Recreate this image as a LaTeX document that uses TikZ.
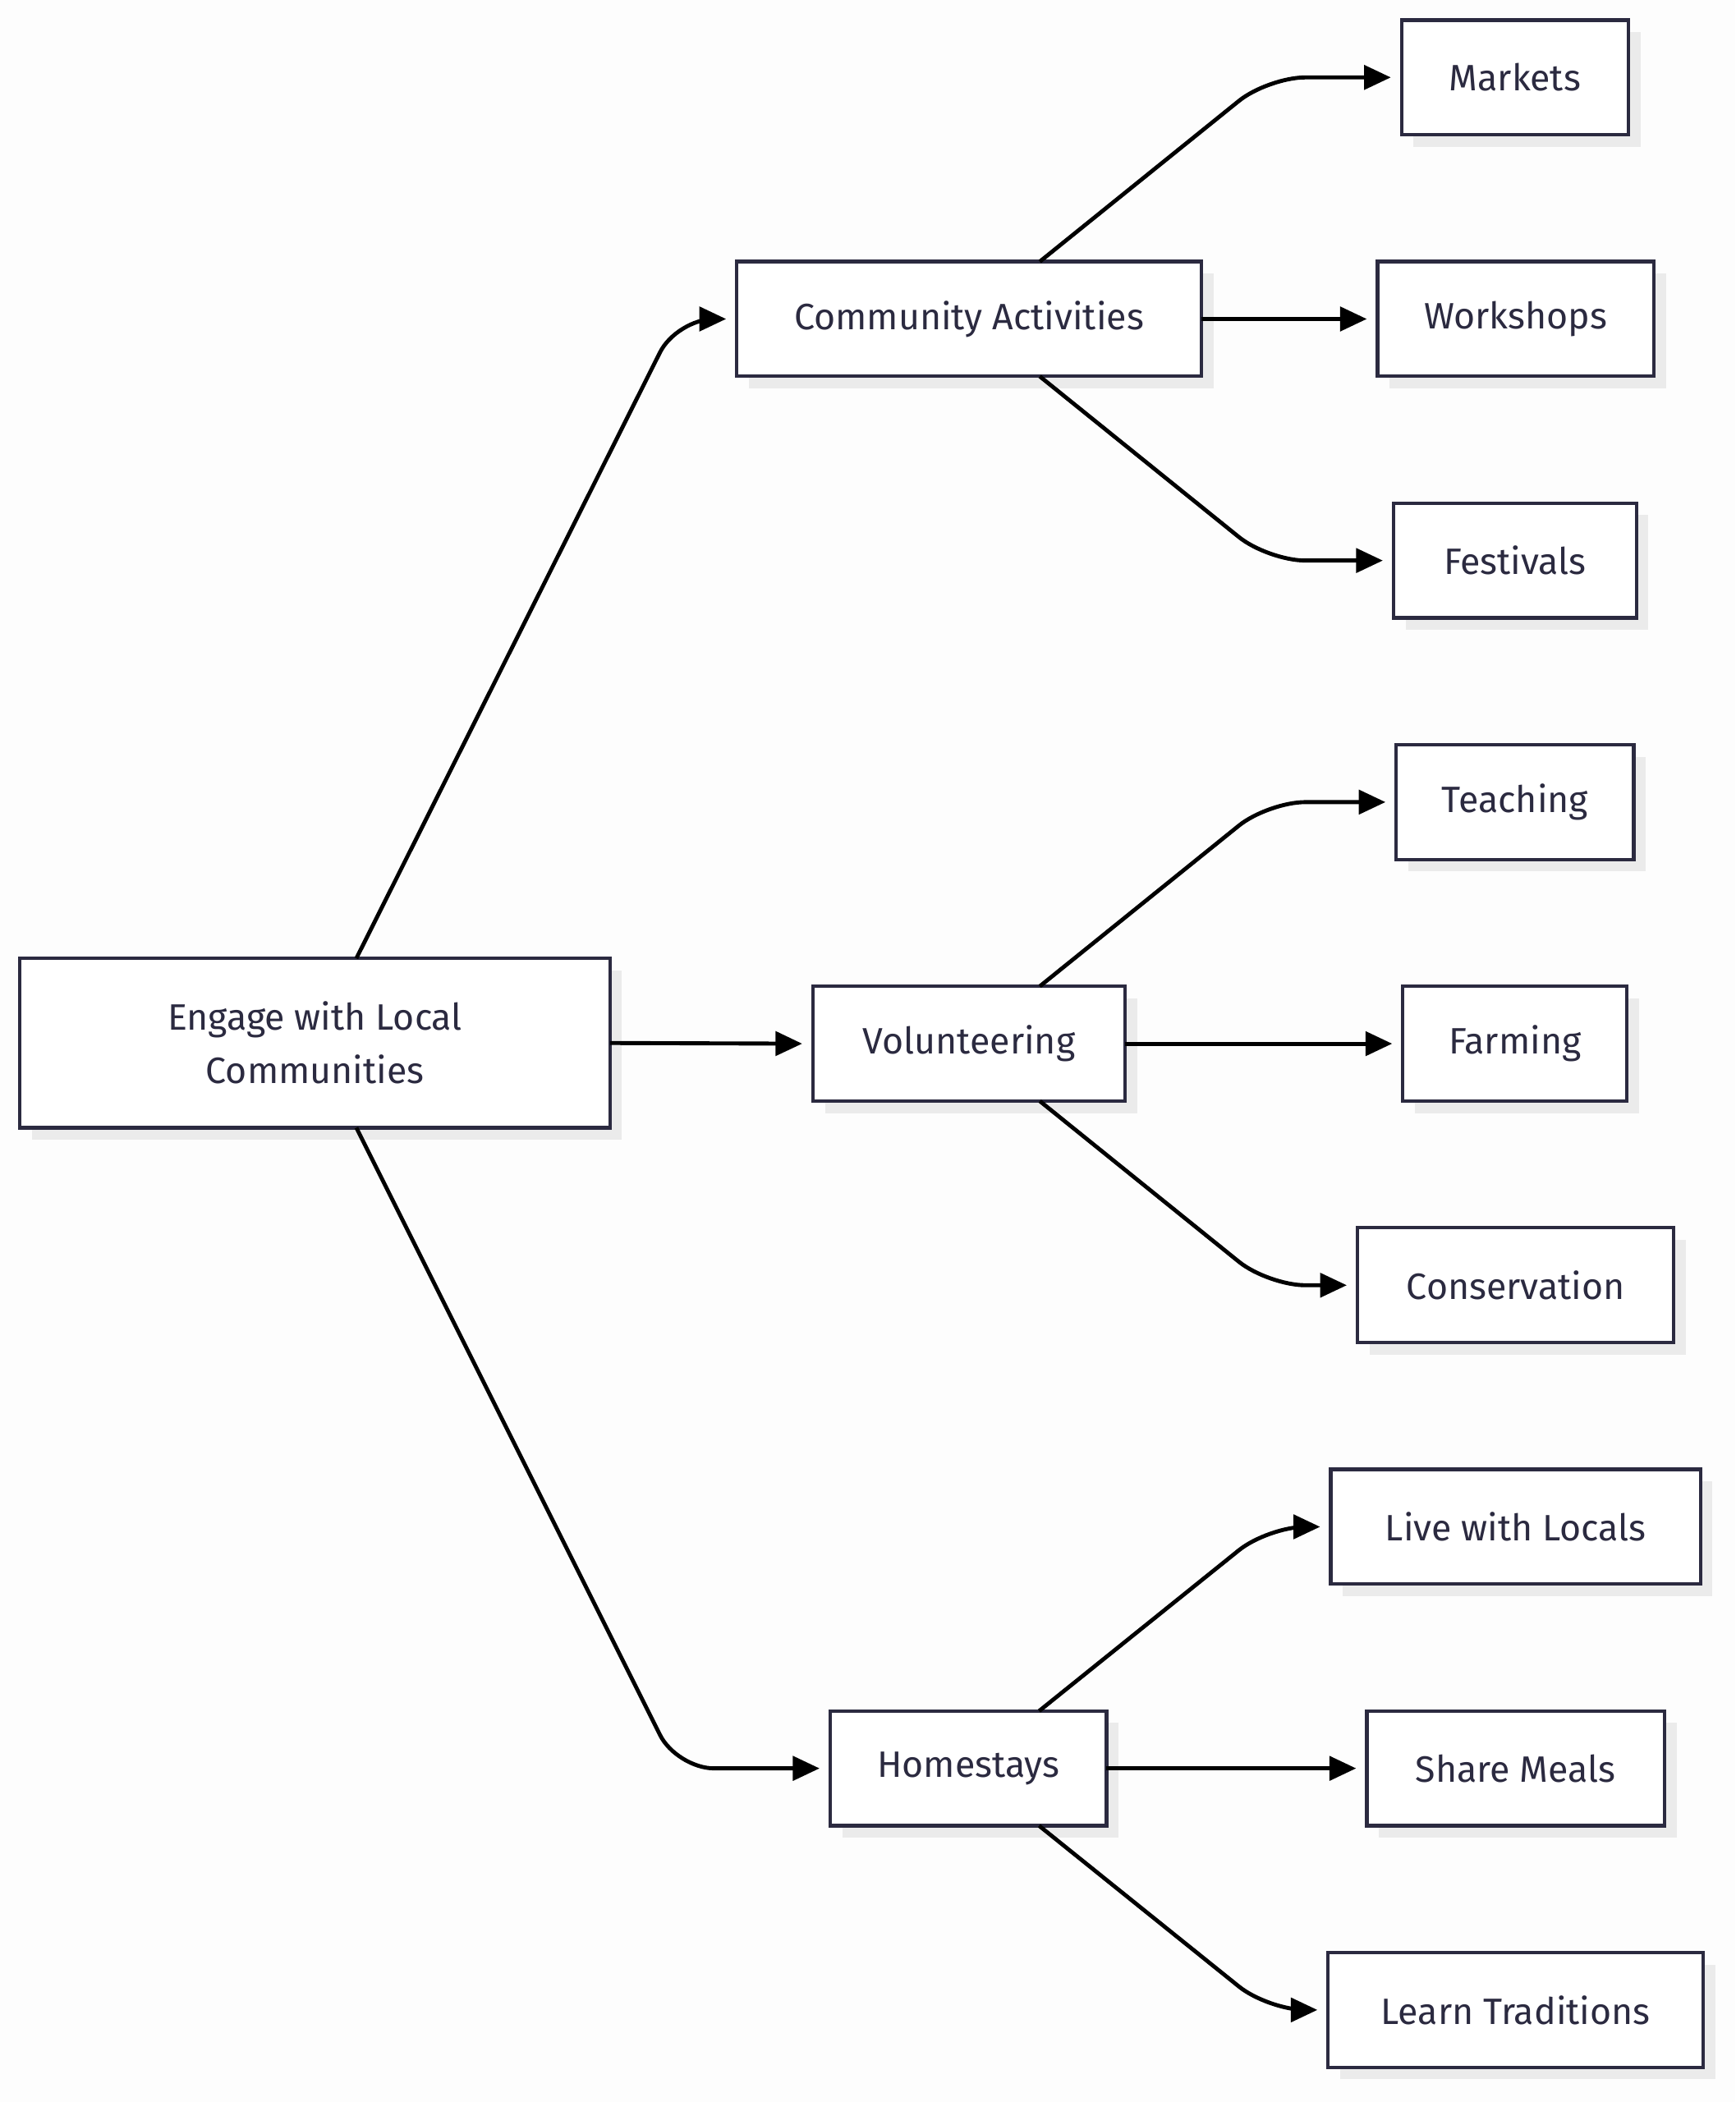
\documentclass[tikz,border=0pt]{standalone}
\usepackage{fontspec}
\setmainfont{Fira Sans}
\usetikzlibrary{arrows.meta}
\definecolor{ink}{HTML}{2B2A40}
\definecolor{shadowc}{HTML}{EBEBEB}
\definecolor{bg}{HTML}{FDFDFD}
\begin{document}
\begin{tikzpicture}[x=1pt,y=-1pt,
  box/.style={draw=ink,line width=2.6pt,fill=white,text=ink,font=\fontsize{27.5}{40}\selectfont,
    inner sep=0pt,outer sep=0pt,align=center},
  edge/.style={draw=black,line width=3pt,rounded corners=28pt,-{Triangle[length=20pt,width=18pt]}}]
\fill[bg] (0,0) rectangle (1300,1575);
\useasboundingbox (0,0) rectangle (1300,1575);
\newcommand\bx[6]{% name, cx, cy, w, h, text
  \fill[shadowc] (#2-#4/2+9,#3-#5/2+9) rectangle (#2+#4/2+9,#3+#5/2+9);
  \node[box,minimum width=#4 pt,minimum height=#5 pt] (#1) at (#2,#3) {#6};}
\bx{root}{236}{781.5}{442}{127}{Engage with Local\\Communities}
\bx{ca}{726}{239}{348}{86}{Community Activities}
\bx{vo}{726}{782}{234}{86}{Volunteering}
\bx{ho}{725.5}{1325}{207}{86}{Homestays}
\bx{ma}{1135}{58}{170}{86}{Markets}
\bx{wo}{1135.5}{239}{207}{86}{Workshops}
\bx{fe}{1135}{420}{182}{86}{Festivals}
\bx{te}{1135}{601}{178}{86}{Teaching}
\bx{fa}{1135}{782}{168}{86}{Farming}
\bx{co}{1135.5}{963}{237}{86}{Conservation}
\bx{li}{1135.5}{1144}{277}{86}{Live with Locals}
\bx{sh}{1135.5}{1325}{223}{86}{Share Meals}
\bx{le}{1135.5}{1506}{281}{86}{Learn Traditions}
\coordinate (rt) at (267,718);
\coordinate (rb) at (267,845);
\coordinate (k) at (950,0);
\coordinate (kr) at (507,0);
\draw[edge] (rt) -- (ca.west -| kr) -- ([xshift=-8pt]ca.west);
\draw[edge] (root.east) -- ([xshift=-8pt]vo.west);
\draw[edge] (rb) -- (ho.west -| kr) -- ([xshift=-8pt]ho.west);
\foreach \p/\a/\b/\c in {ca/ma/wo/fe,vo/te/fa/co,ho/li/sh/le}{
  \coordinate (\p t) at ([xshift=53pt]\p.north);
  \coordinate (\p b) at ([xshift=53pt]\p.south);
  \draw[edge] (\p t) -- (\a.west -| k) -- ([xshift=-8pt]\a.west);
  \draw[edge] (\p.east) -- ([xshift=-8pt]\b.west);
  \draw[edge] (\p b) -- (\c.west -| k) -- ([xshift=-8pt]\c.west);
}
\end{tikzpicture}
\end{document}
